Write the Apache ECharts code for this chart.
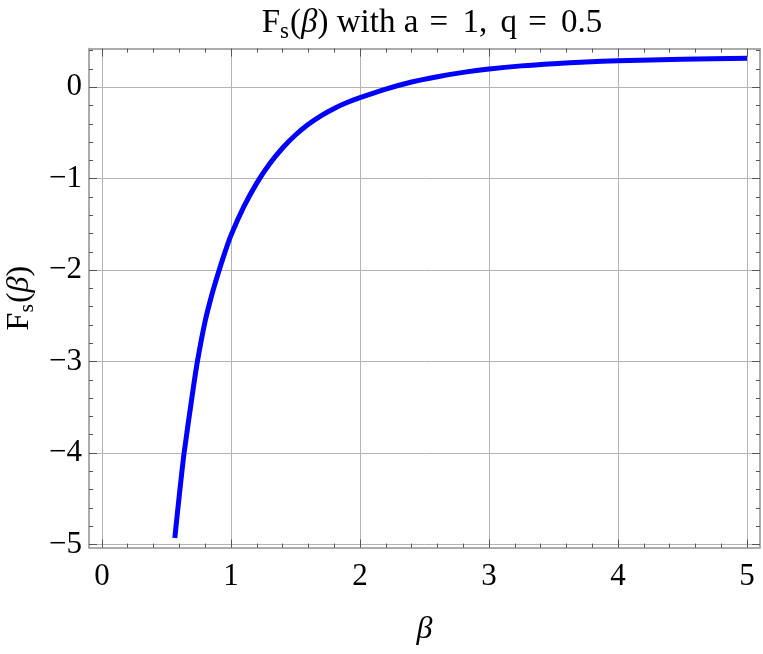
<!DOCTYPE html>
<html><head><meta charset="utf-8">
<script src="https://cdn.jsdelivr.net/npm/echarts@6/dist/echarts.min.js"></script>
<style>html,body{margin:0;padding:0;background:#fff}#c{width:763px;height:654px}</style>
</head><body><div id="c"></div>
<script>
// ---- data ----
const betaValues = [0.565, 0.6, 0.637, 0.7, 0.74, 0.8, 0.85, 0.9, 0.95, 1.0, 1.1, 1.2, 1.3, 1.4, 1.5, 1.6, 1.7, 1.8, 1.9, 2.0, 2.2, 2.4, 2.6, 2.8, 3.0, 3.25, 3.5, 3.75, 4.0, 4.5, 5.0];
const fsValues   = [-4.93, -4.46, -4.0, -3.37, -3.0, -2.56, -2.28, -2.04, -1.82, -1.62, -1.306, -1.048, -0.837, -0.664, -0.522, -0.405, -0.309, -0.231, -0.167, -0.114, -0.02, 0.058, 0.116, 0.163, 0.2, 0.234, 0.258, 0.276, 0.29, 0.307, 0.318];
const xMajorTicks = [0, 1, 2, 3, 4, 5];
const xMinorTicks = [0.2, 0.4, 0.6, 0.8, 1.2, 1.4, 1.6, 1.8, 2.2, 2.4, 2.6, 2.8, 3.2, 3.4, 3.6, 3.8, 4.2, 4.4, 4.6, 4.8];
const yMajorTicks = [-5, -4, -3, -2, -1, 0];
const yMinorTicks = [-4.8, -4.6, -4.4, -4.2, -3.8, -3.6, -3.4, -3.2, -2.8, -2.6, -2.4, -2.2, -1.8, -1.6, -1.4, -1.2, -0.8, -0.6, -0.4, -0.2, 0.2, 0.4];
const xRange = [-0.1, 5.1];
const yRange = [-5.035, 0.423];

const FONT = '"Liberation Serif", "Times New Roman", serif';
const FRAME = '#a6a6a6';
const TICK = '#555555';
const fmt = v => (v < 0 ? '\u2212' + Math.abs(v) : String(v));

const gridBox = { left: 89, top: 48.6, width: 671, height: 499, containLabel: false, outerBoundsMode: 'none' };

function xAx(grid, pos, ticks, len, labels) {
  return {
    type: 'value', gridIndex: grid, position: pos, min: xRange[0], max: xRange[1],
    axisLine: { show: true, onZero: false, lineStyle: { color: FRAME, width: 1.5 } },
    axisTick: { show: true, inside: true, length: len, customValues: ticks, lineStyle: { color: TICK, width: 1 } },
    axisLabel: labels ? { show: true, customValues: ticks, formatter: fmt, fontFamily: FONT, fontSize: 31, color: '#000', margin: 14 } : { show: false },
    splitLine: { show: labels, lineStyle: { color: '#b4b4b4', width: 1 } },
    minorTick: { show: false }
  };
}
function yAx(grid, pos, ticks, len, labels) {
  return {
    type: 'value', gridIndex: grid, position: pos, min: yRange[0], max: yRange[1],
    axisLine: { show: true, onZero: false, lineStyle: { color: FRAME, width: 1.5 } },
    axisTick: { show: true, inside: true, length: len, customValues: ticks, lineStyle: { color: TICK, width: 1 } },
    axisLabel: labels ? { show: true, customValues: ticks, formatter: fmt, fontFamily: FONT, fontSize: 31, color: '#000', margin: 7 } : { show: false },
    splitLine: { show: labels, lineStyle: { color: '#b4b4b4', width: 1 } },
    minorTick: { show: false }
  };
}

const xMain = xAx(0, 'bottom', xMajorTicks, 8, true);
xMain.name = 'β';
xMain.nameLocation = 'middle';
xMain.nameGap = 66;
xMain.nameTextStyle = { fontFamily: FONT, fontSize: 32, fontStyle: 'italic', color: '#000' };

const richSet = {
  n: { fontFamily: FONT, fontSize: 32, fontWeight: 'normal', color: '#000' },
  b: { fontFamily: FONT, fontSize: 32, fontWeight: 'normal', fontStyle: 'italic', color: '#000' },
  s: { fontFamily: FONT, fontSize: 22, fontWeight: 'normal', color: '#000', padding: [15, 1, 0, 0] }
};

const yMain = yAx(0, 'left', yMajorTicks, 8, true);
yMain.name = '{n|F}{s|s}{n|(}{b|β}{n|)}';
yMain.nameLocation = 'middle';
yMain.nameGap = 48;
yMain.nameRotate = 90;
yMain.nameTextStyle = { color: '#000', rich: richSet };

const option = {
  animation: false,
  backgroundColor: '#ffffff',
  title: {
    text: '{n|F}{s|s}{n|(}{b|β}{n|) with a }{e|=}{n| 1}{c|,}{n| q }{e|=}{n| 0.5}',
    left: 427, top: -1, textAlign: 'center',
    textStyle: { fontWeight: 'normal', rich: {
      n: { fontFamily: FONT, fontSize: 33, fontWeight: 'normal', color: '#000' },
      b: { fontFamily: FONT, fontSize: 33, fontWeight: 'normal', fontStyle: 'italic', color: '#000' },
      s: { fontFamily: FONT, fontSize: 23, fontWeight: 'normal', color: '#000', padding: [16, 1, 0, 0] },
      e: { fontFamily: FONT, fontSize: 33, fontWeight: 'normal', color: '#000', padding: [0, 6, 0, 3] },
      c: { fontFamily: FONT, fontSize: 33, fontWeight: 'normal', color: '#000', padding: [0, 5, 0, 0] }
    } }
  },
  grid: [Object.assign({}, gridBox), Object.assign({}, gridBox)],
  xAxis: [xMain, xAx(0, 'top', xMajorTicks, 8, false), xAx(1, 'bottom', xMinorTicks, 4, false), xAx(1, 'top', xMinorTicks, 4, false)],
  yAxis: [yMain, yAx(0, 'right', yMajorTicks, 8, false), yAx(1, 'left', yMinorTicks, 4, false), yAx(1, 'right', yMinorTicks, 4, false)],
  series: [
    {
      type: 'line', xAxisIndex: 0, yAxisIndex: 0,
      data: betaValues.map((b, i) => [b, fsValues[i]]),
      showSymbol: false, smooth: 0.25,
      lineStyle: { color: '#0000ff', width: 5, cap: 'butt' }, z: 5
    },
    { type: 'line', xAxisIndex: 2, yAxisIndex: 2, data: [], showSymbol: false }
  ]
};
const chart = echarts.init(document.getElementById('c'), null, { renderer: 'canvas' });
chart.setOption(option);
</script></body></html>
